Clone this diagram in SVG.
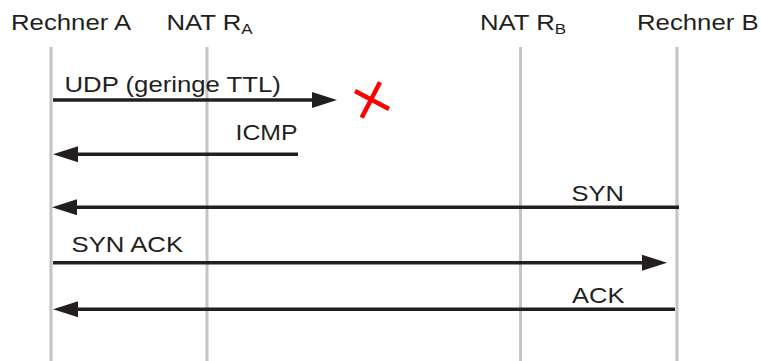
<svg xmlns="http://www.w3.org/2000/svg" width="761" height="361" viewBox="0 0 761 361">
  <style>
    text { font-family: "Liberation Sans", Arial, sans-serif; font-size: 22px; fill: #231f20; }
    .sub { font-size: 14.5px; }
    .life { stroke: #c4c4c4; stroke-width: 3; fill: none; }
    .msg { stroke: #231f20; stroke-width: 3.5; fill: none; marker-end: url(#head); }
    .drop { stroke: #ff0000; stroke-width: 4.5; stroke-linecap: butt; }
  </style>
  <defs>
    <marker id="head" markerUnits="userSpaceOnUse" markerWidth="26" markerHeight="17" viewBox="0 -8.5 26 17" refX="1" refY="0" orient="auto">
      <path d="M0,-8 L25,0 L0,8 z" fill="#231f20"/>
    </marker>
  </defs>

  <rect width="761" height="361" fill="#ffffff"/>

  <!-- participants with their lifelines -->
  <g id="rechner-a">
    <line class="life" x1="51" y1="47" x2="51" y2="361"/>
    <text transform="translate(11,29.5) scale(1.17,1)">Rechner A</text>
  </g>
  <g id="nat-ra">
    <line class="life" x1="207" y1="47" x2="207" y2="361"/>
    <text transform="translate(166.5,29.5) scale(1.17,1)">NAT R<tspan class="sub" dy="4">A</tspan></text>
  </g>
  <g id="nat-rb">
    <line class="life" x1="520.5" y1="47" x2="520.5" y2="361"/>
    <text transform="translate(480,29.5) scale(1.17,1)">NAT R<tspan class="sub" dy="4">B</tspan></text>
  </g>
  <g id="rechner-b">
    <line class="life" x1="677" y1="47" x2="677" y2="361"/>
    <text transform="translate(637,29.5) scale(1.17,1)">Rechner B</text>
  </g>

  <!-- messages -->
  <g id="messages">
    <line class="msg" x1="53" y1="100" x2="313" y2="100"/>
    <line class="msg" x1="298" y1="154.3" x2="77" y2="154.3"/>
    <line class="msg" x1="679" y1="207.3" x2="76" y2="207.3"/>
    <line class="msg" x1="53" y1="262.7" x2="643" y2="262.7"/>
    <line class="msg" x1="675" y1="309.3" x2="77" y2="309.3"/>
  </g>

  <!-- message labels -->
  <g id="labels">
    <text transform="translate(64.5,91.5) scale(1.17,1)">UDP (geringe TTL)</text>
    <text transform="translate(235.5,140) scale(1.13,1)">ICMP</text>
    <text transform="translate(571.5,201.3) scale(1.16,1)">SYN</text>
    <text transform="translate(71.5,251.7) scale(1.17,1)">SYN ACK</text>
    <text transform="translate(572,303.3) scale(1.16,1)">ACK</text>
  </g>

  <!-- packet dropped -->
  <g id="dropped">
    <line class="drop" x1="355" y1="91" x2="389" y2="109"/>
    <line class="drop" x1="380" y1="82.3" x2="361.7" y2="117.7"/>
  </g>
</svg>
